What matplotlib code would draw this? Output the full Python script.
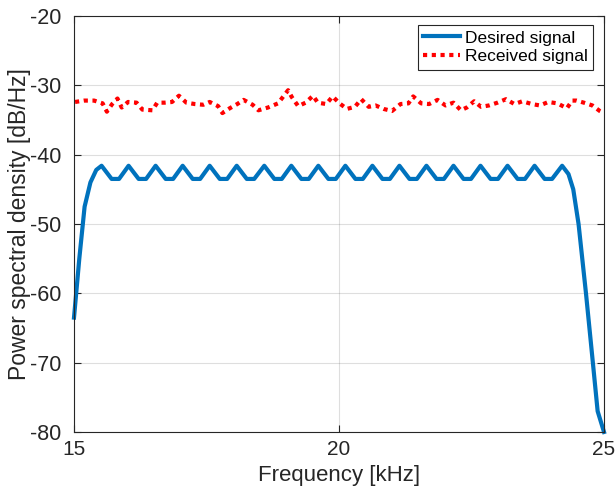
import matplotlib
matplotlib.use('Agg')
import matplotlib.pyplot as plt

plt.rcParams['font.family'] = ['Liberation Sans', 'DejaVu Sans']
plt.rcParams['axes.unicode_minus'] = False

# desired signal PSD, vertices (kHz, dB/Hz)
desired_f = [15.00, 15.10, 15.20, 15.31, 15.42,
             15.52, 15.71, 15.85, 16.03, 16.22, 16.36, 16.54, 16.73, 16.87,
             17.05, 17.24, 17.38, 17.56, 17.75, 17.89, 18.07, 18.26, 18.40,
             18.59, 18.78, 18.92, 19.10, 19.29, 19.43, 19.61, 19.80, 19.94,
             20.12, 20.31, 20.45, 20.63, 20.82, 20.96, 21.14, 21.33, 21.47,
             21.65, 21.84, 21.98, 22.16, 22.35, 22.49, 22.67, 22.86, 23.00,
             23.18, 23.37, 23.51, 23.69, 23.88, 24.02, 24.21,
             24.33, 24.42, 24.52, 24.66, 24.79, 24.88, 25.00]
desired_db = [-63.5, -55.0, -47.5, -44.0, -42.2,
              -41.6, -43.5, -43.5, -41.6, -43.5, -43.5, -41.6, -43.5, -43.5,
              -41.6, -43.5, -43.5, -41.6, -43.5, -43.5, -41.6, -43.5, -43.5,
              -41.6, -43.5, -43.5, -41.6, -43.5, -43.5, -41.6, -43.5, -43.5,
              -41.6, -43.5, -43.5, -41.6, -43.5, -43.5, -41.6, -43.5, -43.5,
              -41.6, -43.5, -43.5, -41.6, -43.5, -43.5, -41.6, -43.5, -43.5,
              -41.6, -43.5, -43.5, -41.6, -43.5, -43.5, -41.6,
              -42.8, -45.0, -50.0, -60.0, -70.0, -77.0, -80.0]

# received signal PSD
received_f = [15.02, 15.19, 15.38, 15.54, 15.62, 15.72, 15.82, 15.90, 16.02,
              16.18, 16.29, 16.48, 16.57, 16.71, 16.85, 16.98, 17.12, 17.28,
              17.44, 17.56, 17.72, 17.80, 17.94, 18.08, 18.20, 18.37, 18.48,
              18.66, 18.85, 18.95, 19.04, 19.11, 19.23, 19.37, 19.51, 19.60,
              19.76, 19.88, 20.01, 20.15, 20.30, 20.42, 20.56, 20.69, 20.84,
              21.00, 21.16, 21.31, 21.40, 21.55, 21.70, 21.86, 22.01, 22.16,
              22.30, 22.41, 22.55, 22.68, 22.83, 22.99, 23.15, 23.31, 23.46,
              23.64, 23.79, 23.95, 24.12, 24.30, 24.40, 24.48, 24.62, 24.78,
              24.92, 25.00]
received_db = [-32.4, -32.2, -32.2, -32.6, -33.8, -32.7, -31.9, -33.2, -32.4,
               -32.5, -33.5, -33.6, -32.5, -32.5, -32.4, -31.5, -32.5, -32.7,
               -32.8, -32.4, -33.0, -34.0, -33.3, -32.7, -32.1, -32.8, -33.6,
               -33.2, -32.6, -31.6, -30.7, -31.7, -33.0, -32.5, -31.5, -32.5,
               -32.7, -31.6, -32.6, -33.4, -33.1, -32.0, -33.1, -32.9, -33.4,
               -33.7, -32.7, -32.6, -31.6, -32.6, -32.7, -32.1, -32.9, -32.5,
               -33.6, -33.2, -32.3, -33.1, -32.9, -32.5, -32.0, -32.7, -32.3,
               -32.7, -32.9, -32.4, -32.6, -33.3, -32.2, -32.2, -32.5, -32.9,
               -33.7, -34.0]

dark = (0.15, 0.15, 0.15)

fig = plt.figure(figsize=(6.16, 4.90), dpi=100)
ax = fig.add_axes([74/616, 1 - 432/490, 530/616, 416/490])

ax.plot(desired_f, desired_db, color=(0, 0.447, 0.741), lw=3,
        label='Desired signal', clip_on=False)
ax.plot(received_f, received_db, color='red', lw=3, linestyle=(0, (1, 1.1)),
        dash_capstyle='butt', label='Received signal')

ax.set_xlim(15, 25)
ax.set_ylim(-80, -20)
ax.set_xticks([15, 20, 25])
ax.set_yticks([-80, -70, -60, -50, -40, -30, -20])
ax.grid(True, color=dark, alpha=0.15, lw=0.8)
ax.set_axisbelow(True)

for s in ax.spines.values():
    s.set_color(dark)
    s.set_linewidth(0.8)
ax.tick_params(direction='in', top=True, right=True, length=5,
               color=dark, labelcolor=dark, labelsize=15, pad=6)
ax.tick_params(axis='y', labelsize=15.5, pad=9)

ax.set_xlabel('Frequency [kHz]', fontsize=16, color=dark)
ax.set_ylabel('Power spectral density [dB/Hz]', fontsize=16.5, color=dark)
ax.yaxis.set_label_coords(-0.082, 0.5)

leg = ax.legend(loc='upper right', bbox_to_anchor=(0.979, 0.978),
                fontsize=12.5, frameon=True, fancybox=False,
                handlelength=2.1, handletextpad=0.3,
                borderpad=0.3, labelspacing=0.22, borderaxespad=0)
leg.get_frame().set_edgecolor(dark)
leg.get_frame().set_linewidth(0.8)
leg.get_frame().set_alpha(1)

fig.savefig('out.png', dpi=100)
